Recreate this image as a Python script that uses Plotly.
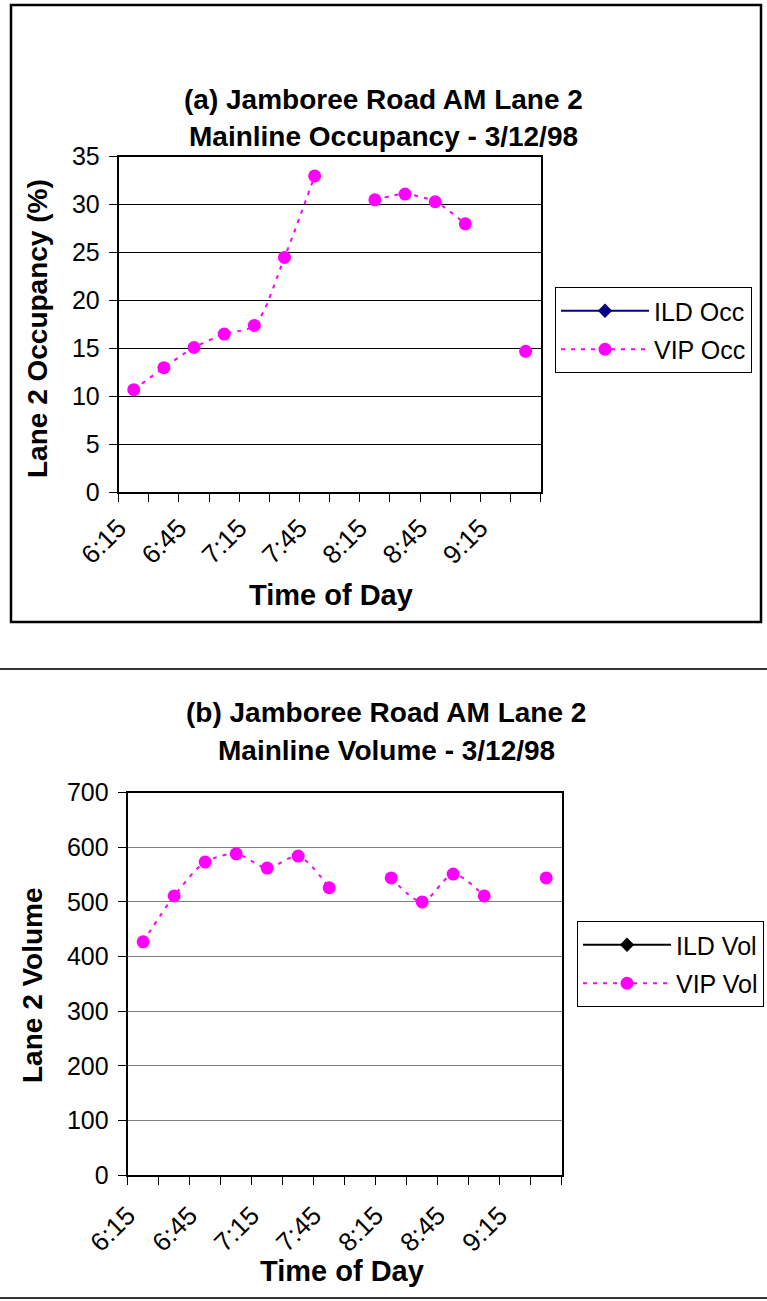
import plotly.graph_objects as go

# Time-of-day categories (15-minute intervals)
times = ["6:15", "6:30", "6:45", "7:00", "7:15", "7:30", "7:45",
         "8:00", "8:15", "8:30", "8:45", "9:00", "9:15", "9:30"]

# Lane 2 mainline occupancy (%)
ild_occ = [None] * 14
vip_occ = [10.7, 13.0, 15.1, 16.5, 17.4, 24.5, 33.0,
           None, 30.5, 31.1, 30.3, 28.0, None, 14.7]

# Lane 2 mainline volume
ild_vol = [None] * 14
vip_vol = [427, 511, 573, 588, 562, 584, 526,
           None, 544, 500, 551, 511, None, 544]

W, H = 767, 1301
FONT = "Liberation Sans, Arial, sans-serif"
MAGENTA = "#FF00FF"

xpos = list(range(len(times)))
bounds = [i - 0.5 for i in range(len(times) + 1)]
btext = [times[i] if (i % 2 == 0 and i < len(times)) else "" for i in range(len(times) + 1)]


def px(x):
    return x / W


def py(y):
    return 1 - y / H


fig = go.Figure()

fig.add_trace(go.Scatter(
    x=xpos, y=ild_occ, name="ILD Occ", mode="lines+markers",
    line=dict(color="#000080", width=2),
    marker=dict(symbol="diamond", size=11, color="#000080"),
    legendgroup="a1", xaxis="x", yaxis="y", legend="legend"))
fig.add_trace(go.Scatter(
    x=xpos, y=vip_occ, name="VIP Occ", mode="lines+markers",
    line=dict(color=MAGENTA, width=2, dash="4px,6px", shape="spline", smoothing=0.8),
    marker=dict(symbol="circle", size=13, color=MAGENTA),
    legendgroup="a2", connectgaps=False, xaxis="x", yaxis="y", legend="legend"))

fig.add_trace(go.Scatter(
    x=xpos, y=ild_vol, name="ILD Vol", mode="lines+markers",
    line=dict(color="black", width=2),
    marker=dict(symbol="diamond", size=11, color="black"),
    legendgroup="b1", xaxis="x2", yaxis="y2", legend="legend2"))
fig.add_trace(go.Scatter(
    x=xpos, y=vip_vol, name="VIP Vol", mode="lines+markers",
    line=dict(color=MAGENTA, width=2, dash="4px,6px", shape="spline", smoothing=0.8),
    marker=dict(symbol="circle", size=13, color=MAGENTA),
    legendgroup="b2", connectgaps=False, xaxis="x2", yaxis="y2", legend="legend2"))

xcommon = dict(
    range=[-0.5, len(times) - 0.5], tickmode="array", tickvals=bounds, ticktext=btext,
    ticks="outside", ticklen=8, tickwidth=1, tickcolor="black",
    tickangle=-45, tickfont=dict(family=FONT, size=26, color="black"),
    showgrid=False, zeroline=False, showline=True, linecolor="black", linewidth=2,
    mirror=True, fixedrange=True, automargin=False,
)

ycommon = dict(
    ticks="outside", ticklen=8, tickcolor="black",
    tickfont=dict(family=FONT, size=25, color="black"), ticklabelstandoff=4,
    showgrid=True, gridwidth=1.3,
    zeroline=False, showline=True, linecolor="black", linewidth=2, mirror=True,
    fixedrange=True, automargin=False,
)

legcommon = dict(
    xanchor="left", yanchor="top",
    bordercolor="black", borderwidth=1, bgcolor="white",
    font=dict(family=FONT, size=25, color="black"), itemwidth=88,
    tracegroupgap=3,
)

fig.update_layout(
    width=W, height=H,
    margin=dict(l=0, r=0, t=0, b=0, pad=0, autoexpand=False),
    paper_bgcolor="white", plot_bgcolor="white",
    font=dict(family=FONT, color="black"),
    xaxis=dict(xcommon, domain=[px(118.7), px(540.7)], anchor="y"),
    yaxis=dict(ycommon, domain=[py(492.3), py(156.7)], anchor="x",
               range=[0, 35], dtick=5, gridcolor="black"),
    xaxis2=dict(xcommon, domain=[px(127.7), px(561.7)], anchor="y2",
                ticklabelstandoff=5),
    yaxis2=dict(ycommon, domain=[py(1175), py(792.7)], anchor="x2",
                range=[0, 700], dtick=100, gridcolor="#808080"),
    legend=dict(legcommon, x=px(555), y=py(287)),
    legend2=dict(legcommon, x=px(577), y=py(921)),
    showlegend=True,
)

notes = [
    ("<b>(a) Jamboree Road AM Lane 2</b>", 383, 100, 0, 28),
    ("<b>Mainline Occupancy - 3/12/98</b>", 383, 137, 0, 28),
    ("<b>Lane 2 Occupancy (%)</b>", 37, 329, -90, 28),
    ("<b>Time of Day</b>", 331, 595, 0, 29),
    ("<b>(b) Jamboree Road AM Lane 2</b>", 386, 712, 0, 28),
    ("<b>Mainline Volume - 3/12/98</b>", 386, 750, 0, 28),
    ("<b>Lane 2 Volume</b>", 32, 985, -90, 28),
    ("<b>Time of Day</b>", 342, 1271, 0, 29),
]
for text, x, y, ang, size in notes:
    fig.add_annotation(text=text, x=px(x), y=py(y), xref="paper", yref="paper",
                       xanchor="center", yanchor="middle", showarrow=False,
                       textangle=ang, font=dict(family=FONT, size=size, color="black"))

# Outer frame of panel (a) and separator rules
fig.add_shape(type="rect", xref="paper", yref="paper",
              x0=px(11), x1=px(761), y0=py(622), y1=py(5),
              line=dict(color="black", width=2.5))
fig.add_shape(type="line", xref="paper", yref="paper",
              x0=0, x1=1, y0=py(669), y1=py(669),
              line=dict(color="#333333", width=2))
fig.add_shape(type="line", xref="paper", yref="paper",
              x0=0, x1=1, y0=py(1298), y1=py(1298),
              line=dict(color="#333333", width=2))

fig.write_html("out.html")
